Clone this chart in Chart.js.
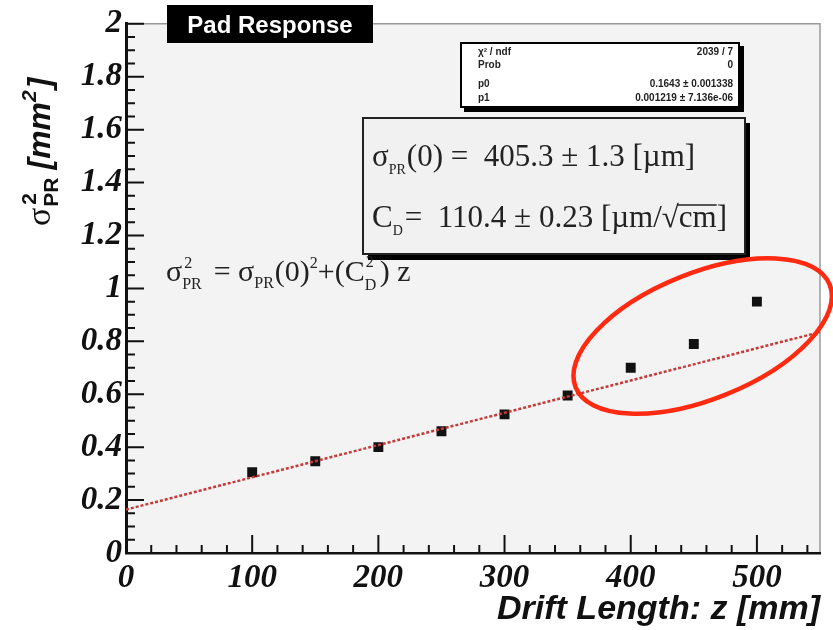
<!DOCTYPE html>
<html lang="en">
<head>
    <meta charset="UTF-8">
    <title>Pad Response</title>
    <script src="https://cdn.jsdelivr.net/npm/chart.js"></script>
    <style>
        html, body { margin: 0; padding: 0; background: #ffffff; }
        #wrap { width: 833px; height: 630px; }
    </style>
</head>
<body>
    <div id="wrap"><canvas id="padChart" width="833" height="630"></canvas></div>

    <script>
        // measured points (drift length in mm, sigma^2 in mm^2)
        const driftZ = [100, 150, 200, 250, 300, 350, 400, 450, 500];
        const sigma2 = [0.305, 0.347, 0.40, 0.46, 0.524, 0.595, 0.70, 0.79, 0.95];

        // fitted straight line, ends of the drawn range
        const fitZ = [0, 550];
        const fitSigma2 = [0.164, 0.835];

        const xTicks = [0, 100, 200, 300, 400, 500];
        const yTicks = [0, 0.2, 0.4, 0.6, 0.8, 1, 1.2, 1.4, 1.6, 1.8, 2];

        const statRows = [
            ['\u03c7\u00b2 / ndf', '2039 / 7'],
            ['Prob', '0'],
            ['p0', '0.1643 \u00b1 0.001338'],
            ['p1', '0.001219 \u00b1 7.136e-06']
        ];

        const serif = "'Liberation Serif', 'DejaVu Serif', serif";
        const sans = "'Liberation Sans', Arial, sans-serif";

        // draw a run of text pieces with their own font and vertical shift
        function drawRich(ctx, x, y, parts) {
            parts.forEach(p => {
                ctx.font = p.font;
                ctx.fillText(p.t, x, y + (p.dy || 0));
                const w = ctx.measureText(p.t).width;
                if (p.over) {
                    ctx.save();
                    ctx.lineWidth = 1.5;
                    ctx.beginPath();
                    ctx.moveTo(x - 1, y - 22);
                    ctx.lineTo(x + w, y - 22);
                    ctx.stroke();
                    ctx.restore();
                }
                x += w + (p.gap || 0);
            });
            return x;
        }

        const plotBackground = {
            id: 'plotBackground',
            beforeDraw(chart) {
                const { ctx, chartArea: a } = chart;
                ctx.save();
                ctx.fillStyle = '#ffffff';
                ctx.fillRect(0, 0, chart.width, chart.height);
                ctx.fillStyle = '#f3f3f3';
                ctx.fillRect(a.left, a.top, a.right - a.left, a.bottom - a.top);
                ctx.strokeStyle = '#9a9a9a';
                ctx.lineWidth = 1.5;
                ctx.beginPath();
                ctx.moveTo(a.left, a.top);
                ctx.lineTo(a.right, a.top);
                ctx.lineTo(a.right, a.bottom);
                ctx.stroke();
                ctx.restore();
            }
        };

        const rootDecor = {
            id: 'rootDecor',
            afterDraw(chart) {
                const { ctx, chartArea: a } = chart;
                const xs = chart.scales.x, ys = chart.scales.y;
                ctx.save();

                // inward ticks
                ctx.strokeStyle = '#111';
                ctx.lineWidth = 2;
                ctx.beginPath();
                for (let v = 0; v <= 550; v += 20) {
                    const px = xs.getPixelForValue(v);
                    const len = v % 100 === 0 ? 18 : 8;
                    ctx.moveTo(px, a.bottom);
                    ctx.lineTo(px, a.bottom - len);
                }
                for (let k = 0; k <= 40; k++) {
                    const v = k * 0.05;
                    const py = ys.getPixelForValue(v);
                    const len = k % 4 === 0 ? 18 : 9;
                    ctx.moveTo(a.left, py);
                    ctx.lineTo(a.left + len, py);
                }
                ctx.stroke();

                // y axis title, rotated
                ctx.save();
                ctx.translate(50, 226);
                ctx.rotate(-Math.PI / 2);
                ctx.fillStyle = '#111';
                ctx.textBaseline = 'alphabetic';
                let x = 0;
                ctx.font = '34px ' + serif;
                ctx.fillText('\u03c3', x, 0);
                x += ctx.measureText('\u03c3').width + 1;
                ctx.font = 'bold 21px ' + sans;
                ctx.fillText('2', x + 2, -14);
                ctx.fillText('PR', x, 8);
                x += ctx.measureText('PR').width + 8;
                ctx.font = 'italic bold 32px ' + sans;
                ctx.fillText('[mm', x, 0);
                x += ctx.measureText('[mm').width;
                ctx.font = 'italic bold 21px ' + sans;
                ctx.fillText('2', x, -14);
                x += ctx.measureText('2').width + 2;
                ctx.font = 'italic bold 32px ' + sans;
                ctx.fillText(']', x, 0);
                ctx.restore();

                // title box
                ctx.fillStyle = '#000';
                ctx.fillRect(167, 5, 206, 38);
                ctx.fillStyle = '#ffffff';
                ctx.font = 'bold 24px ' + sans;
                ctx.textAlign = 'center';
                ctx.fillText('Pad Response', 270, 33);
                ctx.textAlign = 'left';

                // stats box
                ctx.fillStyle = '#000';
                ctx.fillRect(464, 46, 280, 66);
                ctx.fillStyle = '#ffffff';
                ctx.fillRect(461, 43, 278, 64);
                ctx.strokeStyle = '#000';
                ctx.lineWidth = 2;
                ctx.strokeRect(461, 43, 278, 64);
                ctx.fillStyle = '#222';
                ctx.font = 'bold 10px ' + sans;
                const rowY = [55, 68, 87, 101];
                statRows.forEach((r, i) => {
                    ctx.textAlign = 'left';
                    ctx.fillText(r[0], 478, rowY[i]);
                    ctx.textAlign = 'right';
                    ctx.fillText(r[1], 733, rowY[i]);
                });
                ctx.textAlign = 'left';

                // fit result box
                ctx.fillStyle = '#000';
                ctx.fillRect(368, 123, 382, 137);
                ctx.fillStyle = '#f1f1f1';
                ctx.fillRect(363, 118, 382, 136);
                ctx.strokeStyle = '#222';
                ctx.lineWidth = 2;
                ctx.strokeRect(363, 118, 382, 136);
                ctx.fillStyle = '#222';
                const big = '31px ' + serif;
                const small = '14px ' + serif;
                drawRich(ctx, 372, 166, [
                    { t: '\u03c3', font: big },
                    { t: 'PR', font: small, dy: 8, gap: 1 },
                    { t: '(0) =  405.3 \u00b1 1.3 [\u00b5m]', font: big }
                ]);
                drawRich(ctx, 372, 227, [
                    { t: 'C', font: big },
                    { t: 'D', font: small, dy: 8, gap: 2 },
                    { t: '=  110.4 \u00b1 0.23 [\u00b5m/\u221a', font: big },
                    { t: 'cm', font: big, over: true },
                    { t: ']', font: big }
                ]);

                // model formula
                const f = '30px ' + serif;
                const fs = '16px ' + serif;
                let fx = 166;
                fx = drawRich(ctx, fx, 281, [{ t: '\u03c3', font: f }]);
                ctx.font = fs;
                ctx.fillText('2', fx + 2, 268);
                drawRich(ctx, fx, 289, [{ t: 'PR', font: fs }]);
                fx += 24;
                fx = drawRich(ctx, fx, 281, [
                    { t: ' = \u03c3', font: f },
                    { t: 'PR', font: fs, dy: 7, gap: 1 },
                    { t: '(0)', font: f },
                    { t: '2', font: fs, dy: -13 },
                    { t: '+(C', font: f }
                ]);
                ctx.font = fs;
                ctx.fillText('2', fx + 1, 267);
                ctx.fillText('D', fx, 290);
                fx += 15;
                drawRich(ctx, fx, 281, [{ t: ') z', font: f }]);

                // red ellipse around the deviating points
                const cx = xs.getPixelForValue(457);
                const cy = ys.getPixelForValue(0.82);
                ctx.strokeStyle = '#ff2a10';
                ctx.lineWidth = 4.5;
                ctx.beginPath();
                ctx.ellipse(cx, cy, 137, 63, -22 * Math.PI / 180, 0, Math.PI * 2);
                ctx.stroke();

                ctx.restore();
            }
        };

        new Chart(document.getElementById('padChart'), {
            type: 'scatter',
            data: {
                datasets: [
                    {
                        label: 'fit',
                        data: fitZ.map((z, i) => ({ x: z, y: fitSigma2[i] })),
                        showLine: true,
                        borderColor: '#c83a3a',
                        borderWidth: 2.5,
                        borderDash: [3, 2],
                        pointRadius: 0,
                        order: 0
                    },
                    {
                        label: 'sigma2',
                        data: driftZ.map((z, i) => ({ x: z, y: sigma2[i] })),
                        pointStyle: 'rect',
                        pointRadius: 7,
                        backgroundColor: '#111',
                        borderColor: '#111',
                        borderWidth: 0,
                        order: 1
                    }
                ]
            },
            options: {
                responsive: false,
                animation: false,
                layout: { padding: { top: 22, right: 13, left: 0, bottom: 0 } },
                plugins: {
                    legend: { display: false },
                    tooltip: { enabled: false }
                },
                scales: {
                    x: {
                        type: 'linear',
                        min: 0,
                        max: 550,
                        afterBuildTicks: s => { s.ticks = xTicks.map(v => ({ value: v })); },
                        afterFit: s => { s.height = 77; },
                        grid: { display: false, drawTicks: false },
                        border: { display: true, color: '#111', width: 2.5 },
                        ticks: {
                            padding: 6,
                            color: '#111',
                            callback: v => String(v),
                            font: { family: serif, size: 33, style: 'italic', weight: 'bold' }
                        },
                        title: {
                            display: true,
                            text: 'Drift Length: z [mm]',
                            align: 'end',
                            color: '#111',
                            padding: { top: 0, bottom: 0 },
                            font: { family: sans, size: 34, style: 'italic', weight: 'bold' }
                        }
                    },
                    y: {
                        type: 'linear',
                        min: 0,
                        max: 2,
                        afterBuildTicks: s => { s.ticks = yTicks.map(v => ({ value: v })); },
                        afterFit: s => { s.width = 126; },
                        grid: { display: false, drawTicks: false },
                        border: { display: true, color: '#111', width: 3 },
                        ticks: {
                            padding: 4,
                            color: '#111',
                            callback: v => String(+v.toFixed(1)),
                            font: { family: serif, size: 33, style: 'italic', weight: 'bold' }
                        }
                    }
                }
            },
            plugins: [plotBackground, rootDecor]
        });
    </script>
</body>
</html>
